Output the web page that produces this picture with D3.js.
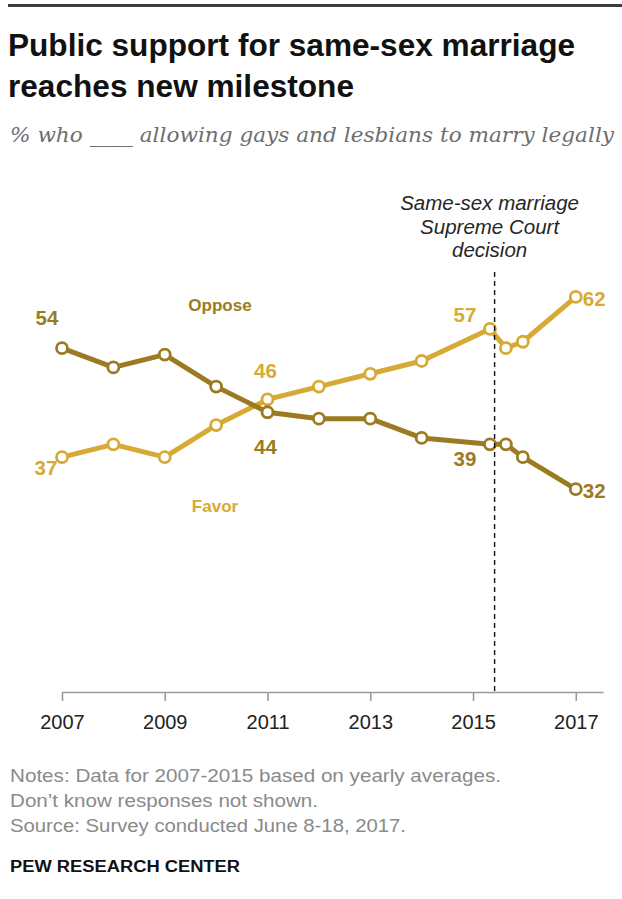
<!DOCTYPE html>
<html>
<head>
<meta charset="utf-8">
<script src="https://cdn.jsdelivr.net/npm/d3@7/dist/d3.min.js"></script>
<style>
  html, body { margin: 0; padding: 0; background: #fff; }
  svg { display: block; }
</style>
</head>
<body>
<script>
// ---- Data ----
const years = [2007, 2008, 2009, 2010, 2011, 2012, 2013, 2014, 2015.33, 2015.64, 2015.97, 2017];
const oppose = [54, 51, 53, 48, 44, 43, 43, 40, 39, 39, 37, 32];
const favor  = [37, 39, 37, 42, 46, 48, 50, 52, 57, 54, 55, 62];
const tickYears = [2007, 2009, 2011, 2013, 2015, 2017];
const decisionYear = 2015.42;
const titleLines = ["Public support for same-sex marriage", "reaches new milestone"];
const subtitle = "% who ____ allowing gays and lesbians to marry legally";
const decisionLines = ["Same-sex marriage", "Supreme Court", "decision"];
const notes = [
  "Notes: Data for 2007-2015  based on yearly averages.",
  "Don\u2019t know responses not shown.",
  "Source: Survey conducted June 8-18, 2017."
];
const credit = "PEW RESEARCH CENTER";

// labelled points: [series, index, dx, dy, anchor]
const opposeLabels = [[0, -15, -23, "middle"], [4, -2, 42, "middle"], [8, -25, 22, "middle"], [11, 7, 9, "start"]];
const favorLabels  = [[0, -16, 18, "middle"], [4, -2, -21, "middle"], [8, -25, -7, "middle"], [11, 7, 9, "start"]];

const W = 622, H = 899;
const opposeColor = "#9b7b22";
const favorColor = "#d7a935";
const sans = "'Liberation Sans', Arial, sans-serif";

const svg = d3.select("body").append("svg").attr("width", W).attr("height", H);

// top rule
svg.append("rect").attr("x", 8).attr("y", 4).attr("width", W - 8).attr("height", 3).attr("fill", "#3d3d3d");

// title
svg.selectAll("text.title").data(titleLines).join("text")
  .attr("class", "title")
  .attr("x", 8).attr("y", (d, i) => 56 + i * 41)
  .attr("font-family", "'Liberation Sans Narrow', 'Liberation Sans', Arial, sans-serif")
  .attr("font-weight", "bold").attr("font-size", 31.5).attr("fill", "#111")
  .attr("textLength", (d, i) => i === 0 ? 567 : 346)
  .attr("lengthAdjust", "spacingAndGlyphs")
  .text(d => d);

// subtitle
svg.append("text").attr("x", 10).attr("y", 142)
  .attr("font-family", "'DejaVu Serif', Georgia, serif").attr("font-style", "italic")
  .attr("font-size", 21).attr("fill", "#6e6e6e")
  .attr("textLength", 604).attr("lengthAdjust", "spacingAndGlyphs")
  .text(subtitle);

// scales
const x = d3.scaleLinear().domain([2007, 2017.53]).range([62, 603]);
const y = d3.scaleLinear().domain([0, 62]).range([694.3, 694.3 - 6.41 * 62]);

// axis
const axis = d3.axisBottom(x).tickValues(tickYears).tickFormat(d3.format("d"))
  .tickSize(9).tickSizeOuter(0).tickPadding(14);
const gAxis = svg.append("g").attr("transform", "translate(0,692)").call(axis);
gAxis.select(".domain").attr("stroke", "#9a9a9a").attr("stroke-width", 1.6);
gAxis.selectAll(".tick line").attr("stroke", "#9a9a9a").attr("stroke-width", 1.6);
gAxis.selectAll(".tick text").attr("font-family", sans).attr("font-size", 20).attr("fill", "#222");

// lines
const line = d3.line().x((d, i) => x(years[i])).y(d => y(d));
svg.append("path").datum(favor).attr("d", line).attr("fill", "none")
  .attr("stroke", favorColor).attr("stroke-width", 5).attr("stroke-linejoin", "round");
svg.append("path").datum(oppose).attr("d", line).attr("fill", "none")
  .attr("stroke", opposeColor).attr("stroke-width", 5).attr("stroke-linejoin", "round");

// markers
function markers(vals, color, cls) {
  svg.selectAll("circle." + cls).data(vals).join("circle")
    .attr("class", cls)
    .attr("cx", (d, i) => x(years[i])).attr("cy", d => y(d)).attr("r", 5.5)
    .attr("fill", "#fff").attr("stroke", color).attr("stroke-width", 2.8);
}
markers(favor, favorColor, "fav");
markers(oppose, opposeColor, "opp");

// decision line
svg.append("line")
  .attr("x1", x(decisionYear)).attr("x2", x(decisionYear))
  .attr("y1", 272).attr("y2", 692)
  .attr("stroke", "#111").attr("stroke-width", 1.4).attr("stroke-dasharray", "5,4");
svg.selectAll("text.decision").data(decisionLines).join("text")
  .attr("class", "decision")
  .attr("x", x(decisionYear) - 5).attr("y", (d, i) => 210 + i * 23.6)
  .attr("text-anchor", "middle")
  .attr("font-family", sans).attr("font-style", "italic").attr("font-size", 20.5).attr("fill", "#262626")
  .text(d => d);

// value labels
function valueLabels(vals, defs, color) {
  svg.selectAll(null).data(defs).join("text")
    .attr("x", d => x(years[d[0]]) + d[1])
    .attr("y", d => y(vals[d[0]]) + d[2])
    .attr("text-anchor", d => d[3])
    .attr("font-family", sans).attr("font-weight", "bold").attr("font-size", 20.5)
    .attr("fill", color)
    .text(d => vals[d[0]]);
}
valueLabels(oppose, opposeLabels, opposeColor);
valueLabels(favor, favorLabels, favorColor);

// series labels
svg.append("text").attr("x", 220).attr("y", 311).attr("text-anchor", "middle")
  .attr("font-family", sans).attr("font-weight", "bold").attr("font-size", 17)
  .attr("fill", opposeColor).text("Oppose");
svg.append("text").attr("x", 215).attr("y", 512).attr("text-anchor", "middle")
  .attr("font-family", sans).attr("font-weight", "bold").attr("font-size", 17)
  .attr("fill", favorColor).text("Favor");

// notes
const noteWidths = [491, 308, 396];
svg.selectAll("text.note").data(notes).join("text")
  .attr("class", "note")
  .attr("x", 10).attr("y", (d, i) => 782 + i * 25)
  .attr("font-family", "'Liberation Sans Narrow', 'Liberation Sans', Arial, sans-serif")
  .attr("font-size", 17.5).attr("fill", "#8a8a8a")
  .attr("textLength", (d, i) => noteWidths[i]).attr("lengthAdjust", "spacingAndGlyphs")
  .text(d => d);

svg.append("text").attr("x", 10).attr("y", 872)
  .attr("font-family", sans).attr("font-weight", "bold").attr("font-size", 16)
  .attr("fill", "#111").attr("textLength", 230).attr("lengthAdjust", "spacingAndGlyphs")
  .text(credit);
</script>
</body>
</html>
